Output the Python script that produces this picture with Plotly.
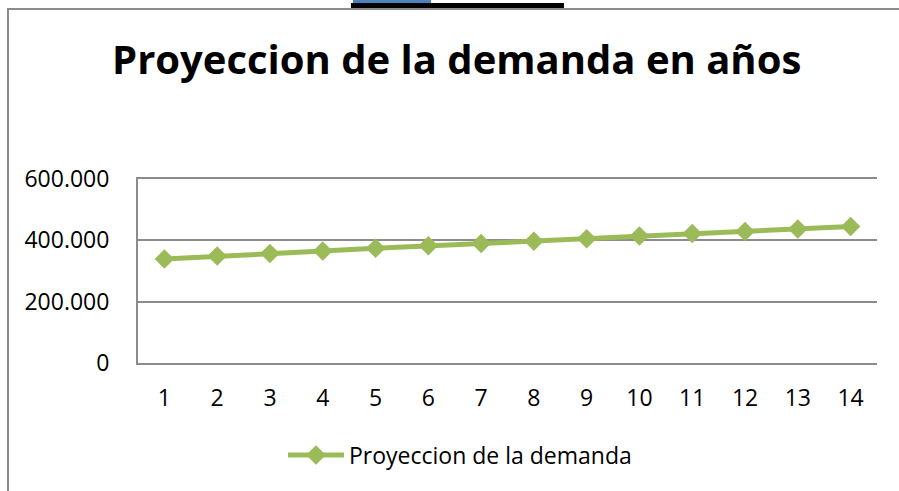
import plotly.graph_objects as go

# Datos del grafico
anios = list(range(1, 15))
demanda = [339000, 349000, 357000, 365000, 374000, 382000, 390000,
           397000, 405000, 414000, 422000, 429000, 437000, 445000]
y_ticks = [0, 200000, 400000, 600000]
y_labels = ["0", "200.000", "400.000", "600.000"]

W, H = 899, 491
L, R, T, B = 138, 22, 179, 128
pw, ph = W - L - R, H - T - B


# Convierte pixeles de la imagen a coordenadas "paper"
def px(x):
    return (x - L) / pw


def py(y):
    return (H - B - y) / ph


fig = go.Figure()

fig.add_trace(
    go.Scatter(
        x=anios,
        y=demanda,
        mode="lines+markers",
        name="Proyeccion de la demanda",
        line=dict(color="#9BBB59", width=5),
        marker=dict(symbol="diamond", size=15, color="#9BBB59"),
    )
)

gris = "#8c8c8c"
shapes = [
    # borde del grafico (izquierda y arriba)
    dict(type="line", xref="paper", yref="paper", x0=px(8), x1=px(8), y0=py(9), y1=py(H + 5),
         line=dict(color=gris, width=2)),
    dict(type="line", xref="paper", yref="paper", x0=px(7), x1=px(W + 5), y0=py(9), y1=py(9),
         line=dict(color=gris, width=2)),
    # barras de la parte superior
    dict(type="rect", xref="paper", yref="paper", x0=px(353), x1=px(431), y0=py(0), y1=py(3),
         fillcolor="#4F81BD", line=dict(width=0)),
    dict(type="rect", xref="paper", yref="paper", x0=px(351), x1=px(564), y0=py(3), y1=py(8),
         fillcolor="black", line=dict(width=0)),
]

fig.update_layout(
    width=W,
    height=H,
    margin=dict(l=L, r=R, t=T, b=B),
    paper_bgcolor="white",
    plot_bgcolor="white",
    font=dict(family="Open Sans", size=23, color="black"),
    title=dict(
        text="<b>Proyeccion de la demanda en años</b>",
        x=0.508,
        xanchor="center",
        y=1 - 60 / H,
        yanchor="middle",
        font=dict(family="Open Sans", size=40, color="black"),
    ),
    xaxis=dict(
        range=[0.5, 14.5],
        tickvals=anios,
        ticks="",
        showgrid=False,
        showline=True,
        mirror=True,
        linecolor=gris,
        linewidth=2,
        zeroline=False,
        ticklabelstandoff=13,
    ),
    yaxis=dict(
        range=[0, 600000],
        tickvals=y_ticks,
        ticktext=y_labels,
        ticks="",
        showgrid=True,
        gridcolor=gris,
        gridwidth=2,
        showline=True,
        linecolor=gris,
        linewidth=2,
        zeroline=False,
        ticklabelstandoff=22,
    ),
    showlegend=True,
    legend=dict(
        orientation="h",
        x=px(460),
        xanchor="center",
        y=py(455),
        yanchor="middle",
        itemwidth=56,
        font=dict(family="Open Sans", size=23),
    ),
    shapes=shapes,
)

# sin margen del body para que el grafico empiece en (0, 0)
fig.write_html(
    "out.html",
    config={"displayModeBar": False},
    post_script="document.body.style.margin = '0';",
)
